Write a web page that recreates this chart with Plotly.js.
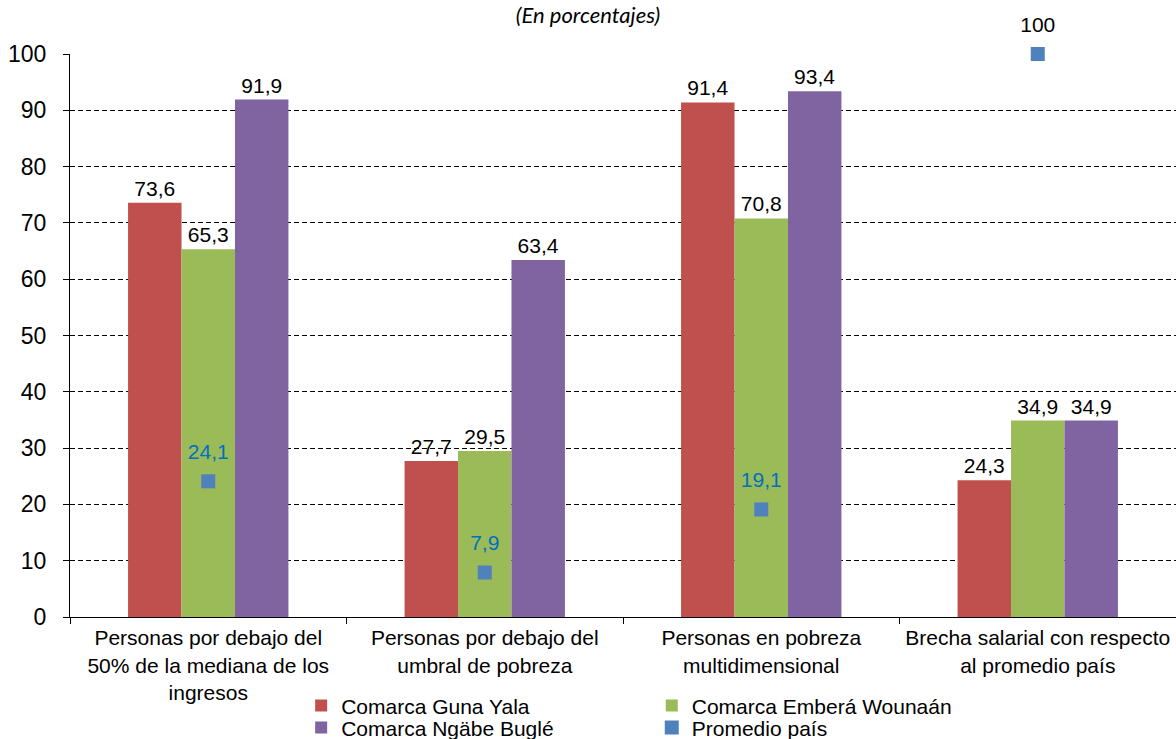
<!DOCTYPE html>
<html>
<head>
<meta charset="utf-8">
<script src="https://cdn.plot.ly/plotly-3.0.1.min.js"></script>
<style>html,body{margin:0;padding:0;background:#fff;}#chart{width:1176px;height:739px;}</style>
</head>
<body>
<div id="chart"></div>
<script>
const categories = [
  "Personas por debajo del<br>50% de la mediana de los<br>ingresos",
  "Personas por debajo del<br>umbral de pobreza",
  "Personas en pobreza<br>multidimensional",
  "Brecha salarial con respecto<br>al promedio país"
];
const seriesNames = ["Comarca Guna Yala", "Comarca Emberá Wounaán", "Comarca Ngäbe Buglé", "Promedio país"];
const gunaYala = [73.6, 27.7, 91.4, 24.3];
const emberaWounaan = [65.3, 29.5, 70.8, 34.9];
const ngabeBugle = [91.9, 63.4, 93.4, 34.9];
const promedioPais = [24.1, 7.9, 19.1, 100];

const FONT = "Liberation Sans, Arial, sans-serif";
const FS = 21;

function barTrace(name, values, color, legendId) {
  return {
    type: "bar", name: name, x: categories, y: values,
    marker: { color: color },
    texttemplate: "%{y}", textposition: "outside", constraintext: "none",
    textfont: { family: FONT, size: FS, color: "#000" },
    cliponaxis: false, legend: legendId, hoverinfo: "skip"
  };
}

const traces = [
  barTrace(seriesNames[0], gunaYala, "#C0504D", "legend"),
  barTrace(seriesNames[1], emberaWounaan, "#9BBB59", "legend2"),
  barTrace(seriesNames[2], ngabeBugle, "#8064A2", "legend3"),
  {
    type: "scatter", mode: "markers", name: seriesNames[3], x: categories, y: promedioPais,
    marker: { symbol: "square", size: 14, color: "#4F81BD" },
    cliponaxis: false, legend: "legend4", hoverinfo: "skip"
  },
  {
    type: "scatter", mode: "markers+text", x: categories, y: promedioPais, showlegend: false,
    marker: { size: 26, color: "rgba(0,0,0,0)" },
    texttemplate: "%{y}", textposition: "top center",
    textfont: { family: FONT, size: FS, color: ["#0070C0", "#0070C0", "#0070C0", "#000000"] },
    cliponaxis: false, hoverinfo: "skip"
  }
];

function leg(x, y) {
  return {
    x: x, y: y, xanchor: "left", yanchor: "middle", orientation: "v",
    font: { family: FONT, size: FS, color: "#000" }, bgcolor: "rgba(0,0,0,0)", borderwidth: 0
  };
}

const layout = {
  width: 1176, height: 739,
  margin: { l: 70, r: 0, t: 54, b: 122, autoexpand: false },
  paper_bgcolor: "#fff", plot_bgcolor: "#fff",
  font: { family: FONT, size: FS, color: "#000" },
  separators: ",.",
  title: {
    text: "(En porcentajes)",
    font: { family: "Lato, sans-serif", size: 22, style: "italic", color: "#000" },
    x: 0.5, xref: "container", xanchor: "center",
    y: 0.9797, yref: "container", yanchor: "middle", pad: { t: 0, b: 0 }
  },
  barmode: "group", bargap: 0.42, bargroupgap: 0,
  xaxis: {
    type: "category", tickson: "boundaries", ticks: "outside", ticklen: 6, tickcolor: "#000",
    showline: true, linecolor: "#000", linewidth: 1, showgrid: false,
    ticklabelstandoff: 2,
    tickfont: { family: FONT, size: FS, color: "#000" }, fixedrange: true
  },
  yaxis: {
    range: [0, 100], dtick: 10, ticks: "outside", ticklen: 6, tickcolor: "#000",
    showline: true, linecolor: "#000", linewidth: 1, zeroline: false,
    showgrid: true, gridcolor: "#000", griddash: "5px,3px", gridwidth: 1,
    ticklabelstandoff: 12,
    tickfont: { family: FONT, size: 23, color: "#000" }, fixedrange: true
  },
  showlegend: true,
  legend: leg(0.209, -0.158),
  legend2: leg(0.526, -0.158),
  legend3: leg(0.209, -0.197),
  legend4: leg(0.526, -0.197)
};

Plotly.newPlot("chart", traces, layout, { displayModeBar: false, staticPlot: true });
</script>
</body>
</html>
